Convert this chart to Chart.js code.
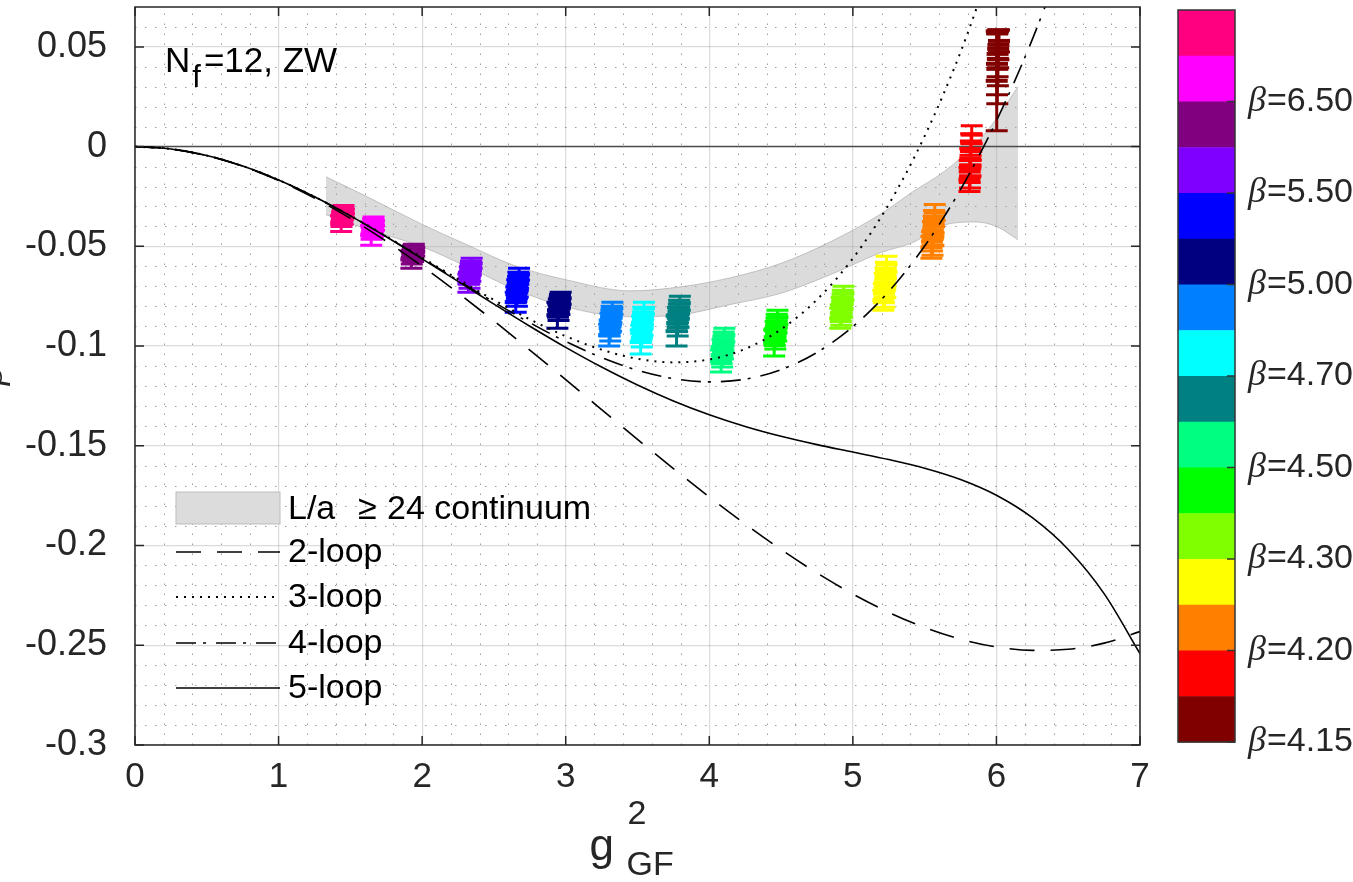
<!DOCTYPE html>
<html>
<head>
<meta charset="utf-8">
<script src="https://cdn.jsdelivr.net/npm/chart.js@4.4.0/dist/chart.umd.min.js"></script>
<style>
html, body { margin: 0; padding: 0; background: #fff; overflow: hidden; }
</style>
</head>
<body>
<canvas id="myChart" width="1353" height="882"></canvas>
<script>
// perturbative beta functions, read at g^2 = 0, 0.25, ... 7
var gPert = [0, 0.25, 0.5, 0.75, 1, 1.25, 1.5, 1.75, 2, 2.25, 2.5, 2.75, 3, 3.25, 3.5, 3.75, 4,
             4.25, 4.5, 4.75, 5, 5.25, 5.5, 5.75, 6, 6.25, 6.5, 6.75, 7];
var loop2 = [0, -0.00116, -0.00450, -0.00984, -0.01699, -0.02577, -0.03598, -0.04744, -0.05995,
             -0.07334, -0.08741, -0.10197, -0.11684, -0.13184, -0.14676, -0.16142, -0.17564,
             -0.18923, -0.20200, -0.21375, -0.22431, -0.23349, -0.24109, -0.24693, -0.25082,
             -0.25257, -0.25201, -0.24893, -0.24315];
var loop3 = [0, -0.00116, -0.00448, -0.00976, -0.01672, -0.02511, -0.03461, -0.04491, -0.05564,
             -0.06644, -0.07689, -0.08658, -0.09504, -0.10180, -0.10636, -0.10818, -0.10672,
             -0.10140, -0.09159, -0.07669, -0.05604, -0.02896, 0.00527, 0.04736, 0.09811];
var loop4 = [0, -0.00116, -0.00448, -0.00976, -0.01673, -0.02514, -0.03470, -0.04509, -0.05599,
             -0.06707, -0.07796, -0.08830, -0.09770, -0.10577, -0.11211, -0.11630, -0.11794,
             -0.11659, -0.11180, -0.10318, -0.09027, -0.07264, -0.04986, -0.02149, 0.01293,
             0.05378, 0.10149];
var loop5 = [0, -0.00116, -0.00448, -0.00976, -0.01674, -0.02516, -0.03474, -0.04521, -0.05625,
             -0.06759, -0.07894, -0.09004, -0.10063, -0.11051, -0.11951, -0.12749, -0.13442,
             -0.14029, -0.14522, -0.14940, -0.15314, -0.15690, -0.16123, -0.16690, -0.17480,
             -0.18606, -0.20198, -0.22410, -0.25421];

// L/a >= 24 continuum band
var bandG     = [1.33, 1.6, 2.0, 2.3, 2.65, 3.0, 3.45, 3.8, 4.15, 4.5, 4.85, 5.2, 5.42, 5.63, 5.85, 6.0, 6.15];
var bandUpper = [-0.0151, -0.0245, -0.0390, -0.0488, -0.0598, -0.0667, -0.0723, -0.0703, -0.0657,
                 -0.0585, -0.0475, -0.0335, -0.0225, -0.0128, 0.0010, 0.0140, 0.0301];
var bandLower = [-0.0341, -0.0410, -0.0502, -0.0598, -0.0716, -0.0803, -0.0853, -0.0843, -0.0791,
                 -0.0735, -0.0640, -0.0530, -0.0480, -0.0395, -0.0378, -0.0400, -0.0467];

// lattice data, one colour per beta (from beta=6.50+ down to 4.15)
var groupColors = ['#ff0080', '#ff00ff', '#800080', '#8000ff', '#0000ff', '#000080', '#0080ff', '#00ffff',
                   '#008080', '#00ff80', '#00ff00', '#80ff00', '#ffff00', '#ff8000', '#ff0000', '#800000'];
var groupG = [
  [1.452, 1.448, 1.455, 1.445, 1.442, 1.447, 1.438, 1.436],
  [1.662, 1.658, 1.665, 1.655, 1.652, 1.657, 1.648, 1.645],
  [1.942, 1.938, 1.945, 1.935, 1.932, 1.937, 1.928, 1.925],
  [2.345, 2.340, 2.338, 2.332, 2.336, 2.326, 2.330, 2.322],
  [2.675, 2.670, 2.668, 2.662, 2.666, 2.656, 2.660, 2.652],
  [2.965, 2.960, 2.958, 2.952, 2.956, 2.946, 2.950, 2.942],
  [3.325, 3.320, 3.318, 3.312, 3.316, 3.306, 3.310, 3.302],
  [3.545, 3.540, 3.538, 3.532, 3.536, 3.526, 3.530, 3.522],
  [3.795, 3.790, 3.788, 3.782, 3.786, 3.776, 3.780, 3.772],
  [4.105, 4.100, 4.098, 4.092, 4.096, 4.086, 4.090, 4.082],
  [4.475, 4.470, 4.468, 4.462, 4.466, 4.456, 4.460, 4.452],
  [4.935, 4.930, 4.928, 4.922, 4.926, 4.916, 4.920, 4.912],
  [5.235, 5.230, 5.228, 5.222, 5.226, 5.216, 5.220, 5.212],
  [5.570, 5.565, 5.563, 5.557, 5.561, 5.551, 5.555, 5.547],
  [5.828, 5.824, 5.822, 5.818, 5.820, 5.814, 5.816, 5.812],
  [6.018, 6.014, 6.012, 6.008, 6.010, 6.004, 6.006, 6.002]
];
var groupBeta = [
  [-0.0315, -0.0325, -0.0335, -0.0345, -0.0355, -0.0365, -0.0375, -0.0385],
  [-0.0375, -0.0385, -0.0395, -0.0405, -0.0415, -0.0425, -0.0435, -0.0445],
  [-0.0510, -0.0518, -0.0526, -0.0534, -0.0542, -0.0550, -0.0558, -0.0566],
  [-0.0585, -0.0600, -0.0615, -0.0630, -0.0645, -0.0660, -0.0675, -0.0685],
  [-0.0640, -0.0660, -0.0680, -0.0700, -0.0720, -0.0740, -0.0760, -0.0780],
  [-0.0760, -0.0772, -0.0784, -0.0796, -0.0808, -0.0820, -0.0832, -0.0845],
  [-0.0810, -0.0830, -0.0850, -0.0870, -0.0890, -0.0910, -0.0930, -0.0945],
  [-0.0810, -0.0835, -0.0860, -0.0885, -0.0910, -0.0935, -0.0960, -0.0980],
  [-0.0785, -0.0805, -0.0825, -0.0845, -0.0865, -0.0885, -0.0905, -0.0925],
  [-0.0945, -0.0965, -0.0985, -0.1005, -0.1025, -0.1045, -0.1060, -0.1075],
  [-0.0855, -0.0875, -0.0895, -0.0915, -0.0935, -0.0955, -0.0970, -0.0985],
  [-0.0735, -0.0755, -0.0775, -0.0795, -0.0815, -0.0835, -0.0850, -0.0860],
  [-0.0590, -0.0620, -0.0650, -0.0680, -0.0710, -0.0735, -0.0755, -0.0770],
  [-0.0330, -0.0360, -0.0390, -0.0420, -0.0450, -0.0475, -0.0495, -0.0505],
  [0.0060, 0.0020, -0.0020, -0.0060, -0.0095, -0.0125, -0.0150, -0.0165],
  [0.0530, 0.0510, 0.0490, 0.0465, 0.0440, 0.0415, 0.0390, 0.0330]
];
var groupErr = [
  [0.0020, 0.0020, 0.0022, 0.0022, 0.0024, 0.0024, 0.0026, 0.0040],
  [0.0022, 0.0022, 0.0024, 0.0024, 0.0026, 0.0026, 0.0030, 0.0050],
  [0.0020, 0.0020, 0.0022, 0.0022, 0.0024, 0.0026, 0.0030, 0.0044],
  [0.0025, 0.0025, 0.0027, 0.0028, 0.0030, 0.0030, 0.0035, 0.0045],
  [0.0030, 0.0030, 0.0030, 0.0032, 0.0034, 0.0036, 0.0040, 0.0050],
  [0.0030, 0.0030, 0.0030, 0.0032, 0.0034, 0.0036, 0.0040, 0.0065],
  [0.0030, 0.0030, 0.0032, 0.0034, 0.0036, 0.0040, 0.0045, 0.0055],
  [0.0030, 0.0030, 0.0032, 0.0034, 0.0036, 0.0040, 0.0045, 0.0060],
  [0.0035, 0.0035, 0.0036, 0.0038, 0.0040, 0.0042, 0.0045, 0.0075],
  [0.0035, 0.0035, 0.0036, 0.0038, 0.0040, 0.0042, 0.0045, 0.0055],
  [0.0035, 0.0035, 0.0036, 0.0038, 0.0040, 0.0042, 0.0045, 0.0065],
  [0.0035, 0.0035, 0.0036, 0.0038, 0.0040, 0.0042, 0.0045, 0.0050],
  [0.0040, 0.0040, 0.0042, 0.0044, 0.0046, 0.0048, 0.0050, 0.0050],
  [0.0040, 0.0040, 0.0042, 0.0044, 0.0046, 0.0048, 0.0050, 0.0055],
  [0.0045, 0.0045, 0.0048, 0.0050, 0.0052, 0.0055, 0.0058, 0.0060],
  [0.0055, 0.0075, 0.0095, 0.0115, 0.0135, 0.0155, 0.0175, 0.0250]
];
var cbTickLabels = ['6.50', '5.50', '5.00', '4.70', '4.50', '4.30', '4.20', '4.15'];

var xTickValues = [0, 1, 2, 3, 4, 5, 6, 7];
var xTickLabels = ['0', '1', '2', '3', '4', '5', '6', '7'];
var yTickValues = [-0.3, -0.25, -0.2, -0.15, -0.1, -0.05, 0, 0.05];
var yTickLabels = ['-0.3', '-0.25', '-0.2', '-0.15', '-0.1', '-0.05', '0', '0.05'];

var fam = "'Liberation Sans', Arial, sans-serif";
var bandFill = 'rgba(170,170,170,0.42)';
var capW = 11;

function pts(xs, ys) {
	return ys.map(function(v, i) { return { x: xs[i], y: v }; });
}

var datasets = [];
datasets.push({ label: '2-loop', data: pts(gPert, loop2), showLine: true, borderColor: '#000', borderWidth: 1.6,
	borderDash: [25, 16], pointRadius: 0, cubicInterpolationMode: 'monotone', order: 0 });
datasets.push({ label: '3-loop', data: pts(gPert, loop3), showLine: true, borderColor: '#000', borderWidth: 2,
	borderDash: [2, 6], pointRadius: 0, cubicInterpolationMode: 'monotone', order: 0 });
datasets.push({ label: '4-loop', data: pts(gPert, loop4), showLine: true, borderColor: '#000', borderWidth: 1.6,
	borderDash: [20, 7, 3, 10], pointRadius: 0, cubicInterpolationMode: 'monotone', order: 0 });
datasets.push({ label: '5-loop', data: pts(gPert, loop5), showLine: true, borderColor: '#000', borderWidth: 1.6,
	pointRadius: 0, cubicInterpolationMode: 'monotone', order: 0 });
for (var gi = 0; gi < groupColors.length; gi++) {
	datasets.push({ label: 'g' + gi, data: pts(groupG[gi], groupBeta[gi]), errs: groupErr[gi], showLine: false,
		borderColor: groupColors[gi], backgroundColor: groupColors[gi], pointStyle: 'line',
		pointRadius: capW, pointBorderWidth: 4, order: 2 });
}
datasets.push({ label: 'zero', data: [{ x: 0, y: 0 }, { x: 7, y: 0 }], showLine: true, borderColor: '#4d4d4d',
	borderWidth: 1.5, pointRadius: 0, order: 3 });
datasets.push({ label: 'bandUp', data: pts(bandG, bandUpper), showLine: true, borderColor: 'rgba(150,150,150,0.5)',
	borderWidth: 1, pointRadius: 0, fill: false, cubicInterpolationMode: 'monotone', order: 4 });
datasets.push({ label: 'bandLo', data: pts(bandG, bandLower), showLine: true, borderColor: 'rgba(150,150,150,0.5)',
	borderWidth: 1, pointRadius: 0, fill: '-1', backgroundColor: bandFill, cubicInterpolationMode: 'monotone', order: 4 });

var errorBars = {
	id: 'errorBars',
	afterDatasetDraw: function(chart, args) {
		var ds = chart.data.datasets[args.index];
		if (!ds.errs) return;
		var ctx = chart.ctx, xs = chart.scales.x, ys = chart.scales.y, a = chart.chartArea;
		ctx.save();
		ctx.beginPath();
		ctx.rect(a.left, a.top, a.right - a.left, a.bottom - a.top);
		ctx.clip();
		ctx.strokeStyle = ds.borderColor;
		ctx.lineWidth = 3;
		ds.data.forEach(function(p, i) {
			var px = xs.getPixelForValue(p.x);
			var top = ys.getPixelForValue(p.y + ds.errs[i]);
			var bot = ys.getPixelForValue(p.y - ds.errs[i]);
			ctx.beginPath();
			ctx.moveTo(px, top); ctx.lineTo(px, bot);
			ctx.moveTo(px - capW, top); ctx.lineTo(px + capW, top);
			ctx.moveTo(px - capW, bot); ctx.lineTo(px + capW, bot);
			ctx.stroke();
		});
		ctx.restore();
	}
};

var decor = {
	id: 'decor',
	beforeDatasetsDraw: function(chart) {
		var ctx = chart.ctx, a = chart.chartArea, xs = chart.scales.x, ys = chart.scales.y;
		ctx.save();
		ctx.strokeStyle = 'rgba(0,0,0,0.38)';
		ctx.lineWidth = 1;
		ctx.setLineDash([1.5, 8.5]);
		// minor grid
		for (var k = 1; k < 35; k++) {
			if (k % 5 === 0) continue;
			var px = Math.round(xs.getPixelForValue(k * 0.2)) + 0.5;
			ctx.beginPath(); ctx.moveTo(px, a.bottom); ctx.lineTo(px, a.top); ctx.stroke();
		}
		for (var j = -29; j <= 6; j++) {
			if (j % 5 === 0) continue;
			var py = Math.round(ys.getPixelForValue(j * 0.01)) + 0.5;
			ctx.beginPath(); ctx.moveTo(a.left, py); ctx.lineTo(a.right, py); ctx.stroke();
		}
		ctx.restore();
	},
	afterDraw: function(chart) {
		var ctx = chart.ctx, a = chart.chartArea, xs = chart.scales.x, ys = chart.scales.y;
		ctx.save();
		// box and inward ticks
		ctx.strokeStyle = '#262626';
		ctx.lineWidth = 1.5;
		ctx.strokeRect(a.left, a.top, a.right - a.left, a.bottom - a.top);
		ctx.beginPath();
		xTickValues.forEach(function(v) {
			var px = xs.getPixelForValue(v);
			ctx.moveTo(px, a.bottom); ctx.lineTo(px, a.bottom - 9);
			ctx.moveTo(px, a.top); ctx.lineTo(px, a.top + 9);
		});
		yTickValues.forEach(function(v) {
			var py = ys.getPixelForValue(v);
			ctx.moveTo(a.left, py); ctx.lineTo(a.left + 9, py);
			ctx.moveTo(a.right, py); ctx.lineTo(a.right - 9, py);
		});
		ctx.stroke();

		// N_f=12, ZW
		ctx.fillStyle = '#000';
		ctx.textBaseline = 'alphabetic';
		ctx.textAlign = 'left';
		var tx = a.left + 30, ty = 72;
		ctx.font = '35px ' + fam;
		ctx.fillText('N', tx, ty);
		var w1 = ctx.measureText('N').width;
		ctx.font = '31px ' + fam;
		ctx.fillText('f', tx + w1 + 2, ty + 15);
		var w2 = ctx.measureText('f').width;
		ctx.font = '35px ' + fam;
		ctx.fillText('=12, ZW', tx + w1 + w2 + 5, ty);

		// legend
		var lx0 = a.left + 41, lx1 = a.left + 145, ltx = a.left + 153;
		ctx.fillStyle = '#dcdcdc';
		ctx.fillRect(lx0, 492, lx1 - lx0, 32);
		ctx.strokeStyle = '#bdbdbd';
		ctx.lineWidth = 1;
		ctx.strokeRect(lx0, 492, lx1 - lx0, 32);
		ctx.fillStyle = '#000';
		ctx.font = '34px ' + fam;
		ctx.textBaseline = 'middle';
		ctx.fillText('L/a', ltx, 510);
		ctx.fillText('\u2265', ltx + 70, 510);
		ctx.fillText('24 continuum', ltx + 99, 510);
		var legLines = [
			{ y: 552, ds: datasets[0] },
			{ y: 597, ds: datasets[1] },
			{ y: 643, ds: datasets[2] },
			{ y: 688, ds: datasets[3] }
		];
		legLines.forEach(function(it) {
			ctx.save();
			ctx.strokeStyle = it.ds.borderColor;
			ctx.lineWidth = it.ds.borderWidth;
			ctx.setLineDash(it.ds.borderDash || []);
			ctx.beginPath(); ctx.moveTo(lx0, it.y); ctx.lineTo(lx1, it.y); ctx.stroke();
			ctx.restore();
			ctx.fillText(it.ds.label, ltx, it.y + 1);
		});

		// colorbar
		var cbL = 1178, cbR = 1235, cbT = 10, cbB = 742, n = groupColors.length, bh = (cbB - cbT) / n;
		groupColors.forEach(function(c, i) {
			ctx.fillStyle = c;
			ctx.fillRect(cbL, cbT + i * bh, cbR - cbL, bh + 0.5);
		});
		ctx.strokeStyle = '#333';
		ctx.lineWidth = 1.5;
		ctx.strokeRect(cbL, cbT, cbR - cbL, cbB - cbT);
		ctx.fillStyle = '#262626';
		cbTickLabels.forEach(function(lab, k) {
			var y = cbT + (k + 1) * 2 * bh;
			ctx.beginPath(); ctx.moveTo(cbR - 8, y); ctx.lineTo(cbR, y); ctx.stroke();
			ctx.font = "italic 36px 'Liberation Serif', serif";
			ctx.fillText('\u03b2', 1248, y);
			var bw = ctx.measureText('\u03b2').width;
			ctx.font = '34px ' + fam;
			ctx.fillText('=' + lab, 1248 + bw + 1, y);
		});

		// x axis title g^2_GF
		var cx = (a.left + a.right) / 2;
		ctx.textBaseline = 'alphabetic';
		ctx.fillStyle = '#262626';
		ctx.font = '44px ' + fam;
		ctx.fillText('g', cx - 48, 860);
		ctx.font = '34px ' + fam;
		ctx.fillText('2', cx - 10, 824);
		ctx.fillText('GF', cx - 11, 875);

		// y axis title (cut off at the left edge)
		ctx.translate(2, (a.top + a.bottom) / 2);
		ctx.rotate(-Math.PI / 2);
		ctx.textAlign = 'center';
		ctx.font = "italic 38px 'Liberation Serif', serif";
		ctx.fillText('\u03b2', 0, 0);
		ctx.restore();
	}
};

var ctx = document.getElementById('myChart').getContext('2d');

var myChart = new Chart(ctx, {
	type: 'scatter',
	data: { datasets: datasets },
	options: {
		responsive: false,
		animation: false,
		events: [],
		layout: { autoPadding: false, padding: { left: 0, right: 213, top: 7, bottom: 0 } },
		plugins: { legend: { display: false }, tooltip: { enabled: false } },
		scales: {
			x: {
				type: 'linear', min: 0, max: 7,
				afterBuildTicks: function(s) { s.ticks = xTickValues.map(function(v) { return { value: v }; }); },
				afterFit: function(s) { s.height = 137; s.paddingLeft = 0; s.paddingRight = 0; s.paddingTop = 0; s.paddingBottom = 0; },
				ticks: { callback: function(v, i) { return xTickLabels[i]; }, font: { size: 35, family: fam },
					color: '#262626', padding: 11, maxRotation: 0, autoSkip: false },
				grid: { color: 'rgba(0,0,0,0.14)', lineWidth: 1.2, drawTicks: false },
				border: { display: false }
			},
			y: {
				type: 'linear', min: -0.3, max: 0.07,
				afterBuildTicks: function(s) { s.ticks = yTickValues.map(function(v) { return { value: v }; }); },
				afterFit: function(s) { s.width = 135; s.paddingLeft = 0; s.paddingRight = 0; s.paddingTop = 0; s.paddingBottom = 0; },
				ticks: { callback: function(v, i) { return yTickLabels[i]; }, font: { size: 36, family: fam },
					color: '#262626', padding: 28, autoSkip: false },
				grid: { color: 'rgba(0,0,0,0.14)', lineWidth: 1.2, drawTicks: false },
				border: { display: false }
			}
		}
	},
	plugins: [errorBars, decor]
});
</script>
</body>
</html>
